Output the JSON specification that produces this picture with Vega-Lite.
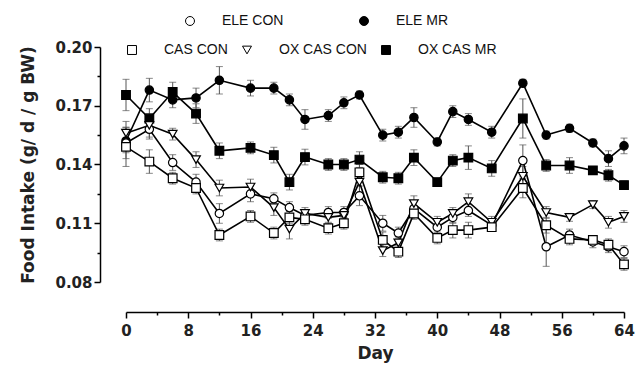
{
  "$schema": "https://vega.github.io/schema/vega-lite/v6.json",
  "width": 498,
  "height": 235,
  "autosize": "none",
  "padding": {"left": 126, "top": 47, "right": 11, "bottom": 91},
  "background": "white",
  "config": {
    "view": {"stroke": null},
    "font": "Liberation Sans",
    "legend": {"symbolStrokeColor": "black", "symbolStrokeWidth": 1}
  },
  "data": {
    "values": [
      {"day":0,"series":"ELE MR","value":0.152,"err":0.006},
      {"day":3,"series":"ELE MR","value":0.178,"err":0.006},
      {"day":6,"series":"ELE MR","value":0.173,"err":0.004},
      {"day":9,"series":"ELE MR","value":0.174,"err":0.005},
      {"day":12,"series":"ELE MR","value":0.183,"err":0.007},
      {"day":16,"series":"ELE MR","value":0.179,"err":0.004},
      {"day":19,"series":"ELE MR","value":0.179,"err":0.003},
      {"day":21,"series":"ELE MR","value":0.173,"err":0.003},
      {"day":23,"series":"ELE MR","value":0.163,"err":0.005},
      {"day":26,"series":"ELE MR","value":0.165,"err":0.003},
      {"day":28,"series":"ELE MR","value":0.1715,"err":0.003},
      {"day":30,"series":"ELE MR","value":0.1755,"err":0.002},
      {"day":33,"series":"ELE MR","value":0.155,"err":0.003},
      {"day":35,"series":"ELE MR","value":0.1565,"err":0.003},
      {"day":37,"series":"ELE MR","value":0.164,"err":0.005},
      {"day":40,"series":"ELE MR","value":0.1515,"err":0.002},
      {"day":42,"series":"ELE MR","value":0.167,"err":0.003},
      {"day":44,"series":"ELE MR","value":0.163,"err":0.003},
      {"day":47,"series":"ELE MR","value":0.1565,"err":0.003},
      {"day":51,"series":"ELE MR","value":0.1815,"err":0.002},
      {"day":54,"series":"ELE MR","value":0.155,"err":0.002},
      {"day":57,"series":"ELE MR","value":0.1585,"err":0.002},
      {"day":60,"series":"ELE MR","value":0.151,"err":0.002},
      {"day":62,"series":"ELE MR","value":0.143,"err":0.004},
      {"day":64,"series":"ELE MR","value":0.1495,"err":0.004},

      {"day":0,"series":"OX CAS MR","value":0.1755,"err":0.008},
      {"day":3,"series":"OX CAS MR","value":0.1635,"err":0.005},
      {"day":6,"series":"OX CAS MR","value":0.177,"err":0.005},
      {"day":9,"series":"OX CAS MR","value":0.166,"err":0.005},
      {"day":12,"series":"OX CAS MR","value":0.147,"err":0.004},
      {"day":16,"series":"OX CAS MR","value":0.1485,"err":0.003},
      {"day":19,"series":"OX CAS MR","value":0.1448,"err":0.004},
      {"day":21,"series":"OX CAS MR","value":0.131,"err":0.004},
      {"day":23,"series":"OX CAS MR","value":0.1438,"err":0.004},
      {"day":26,"series":"OX CAS MR","value":0.14,"err":0.003},
      {"day":28,"series":"OX CAS MR","value":0.14,"err":0.003},
      {"day":30,"series":"OX CAS MR","value":0.1425,"err":0.004},
      {"day":33,"series":"OX CAS MR","value":0.1335,"err":0.003},
      {"day":35,"series":"OX CAS MR","value":0.133,"err":0.003},
      {"day":37,"series":"OX CAS MR","value":0.1435,"err":0.004},
      {"day":40,"series":"OX CAS MR","value":0.131,"err":0.002},
      {"day":42,"series":"OX CAS MR","value":0.142,"err":0.003},
      {"day":44,"series":"OX CAS MR","value":0.1435,"err":0.006},
      {"day":47,"series":"OX CAS MR","value":0.138,"err":0.004},
      {"day":51,"series":"OX CAS MR","value":0.1635,"err":0.01},
      {"day":54,"series":"OX CAS MR","value":0.1395,"err":0.003},
      {"day":57,"series":"OX CAS MR","value":0.1395,"err":0.004},
      {"day":60,"series":"OX CAS MR","value":0.137,"err":0.002},
      {"day":62,"series":"OX CAS MR","value":0.1345,"err":0.003},
      {"day":64,"series":"OX CAS MR","value":0.1295,"err":0.002},

      {"day":0,"series":"OX CAS CON","value":0.156,"err":0.006},
      {"day":3,"series":"OX CAS CON","value":0.16,"err":0.006},
      {"day":6,"series":"OX CAS CON","value":0.1555,"err":0.003},
      {"day":9,"series":"OX CAS CON","value":0.1425,"err":0.004},
      {"day":12,"series":"OX CAS CON","value":0.128,"err":0.004},
      {"day":16,"series":"OX CAS CON","value":0.1285,"err":0.004},
      {"day":19,"series":"OX CAS CON","value":0.118,"err":0.004},
      {"day":21,"series":"OX CAS CON","value":0.107,"err":0.005},
      {"day":23,"series":"OX CAS CON","value":0.115,"err":0.003},
      {"day":26,"series":"OX CAS CON","value":0.113,"err":0.003},
      {"day":28,"series":"OX CAS CON","value":0.114,"err":0.003},
      {"day":30,"series":"OX CAS CON","value":0.131,"err":0.006},
      {"day":33,"series":"OX CAS CON","value":0.096,"err":0.003},
      {"day":35,"series":"OX CAS CON","value":0.1,"err":0.003},
      {"day":37,"series":"OX CAS CON","value":0.12,"err":0.004},
      {"day":40,"series":"OX CAS CON","value":0.1105,"err":0.003},
      {"day":42,"series":"OX CAS CON","value":0.115,"err":0.003},
      {"day":44,"series":"OX CAS CON","value":0.121,"err":0.004},
      {"day":47,"series":"OX CAS CON","value":0.1105,"err":0.003},
      {"day":51,"series":"OX CAS CON","value":0.134,"err":0.005},
      {"day":54,"series":"OX CAS CON","value":0.1155,"err":0.003},
      {"day":57,"series":"OX CAS CON","value":0.113,"err":0.002},
      {"day":60,"series":"OX CAS CON","value":0.1195,"err":0.002},
      {"day":62,"series":"OX CAS CON","value":0.1105,"err":0.003},
      {"day":64,"series":"OX CAS CON","value":0.1135,"err":0.003},

      {"day":0,"series":"ELE CON","value":0.151,"err":0.008},
      {"day":3,"series":"ELE CON","value":0.158,"err":0.005},
      {"day":6,"series":"ELE CON","value":0.141,"err":0.004},
      {"day":9,"series":"ELE CON","value":0.131,"err":0.004},
      {"day":12,"series":"ELE CON","value":0.115,"err":0.005},
      {"day":16,"series":"ELE CON","value":0.125,"err":0.004},
      {"day":19,"series":"ELE CON","value":0.1225,"err":0.003},
      {"day":21,"series":"ELE CON","value":0.118,"err":0.003},
      {"day":23,"series":"ELE CON","value":0.114,"err":0.003},
      {"day":26,"series":"ELE CON","value":0.1155,"err":0.003},
      {"day":28,"series":"ELE CON","value":0.1155,"err":0.003},
      {"day":30,"series":"ELE CON","value":0.124,"err":0.005},
      {"day":33,"series":"ELE CON","value":0.11,"err":0.004},
      {"day":35,"series":"ELE CON","value":0.105,"err":0.003},
      {"day":37,"series":"ELE CON","value":0.1175,"err":0.004},
      {"day":40,"series":"ELE CON","value":0.108,"err":0.003},
      {"day":42,"series":"ELE CON","value":0.113,"err":0.003},
      {"day":44,"series":"ELE CON","value":0.1165,"err":0.003},
      {"day":47,"series":"ELE CON","value":0.109,"err":0.003},
      {"day":51,"series":"ELE CON","value":0.142,"err":0.008},
      {"day":54,"series":"ELE CON","value":0.098,"err":0.01},
      {"day":57,"series":"ELE CON","value":0.104,"err":0.003},
      {"day":60,"series":"ELE CON","value":0.1005,"err":0.003},
      {"day":62,"series":"ELE CON","value":0.098,"err":0.003},
      {"day":64,"series":"ELE CON","value":0.0955,"err":0.003},

      {"day":0,"series":"CAS CON","value":0.149,"err":0.01},
      {"day":3,"series":"CAS CON","value":0.1415,"err":0.006},
      {"day":6,"series":"CAS CON","value":0.133,"err":0.003},
      {"day":9,"series":"CAS CON","value":0.128,"err":0.003},
      {"day":12,"series":"CAS CON","value":0.104,"err":0.003},
      {"day":16,"series":"CAS CON","value":0.1135,"err":0.003},
      {"day":19,"series":"CAS CON","value":0.105,"err":0.003},
      {"day":21,"series":"CAS CON","value":0.113,"err":0.003},
      {"day":23,"series":"CAS CON","value":0.112,"err":0.003},
      {"day":26,"series":"CAS CON","value":0.1075,"err":0.003},
      {"day":28,"series":"CAS CON","value":0.11,"err":0.003},
      {"day":30,"series":"CAS CON","value":0.136,"err":0.004},
      {"day":33,"series":"CAS CON","value":0.1015,"err":0.004},
      {"day":35,"series":"CAS CON","value":0.0955,"err":0.003},
      {"day":37,"series":"CAS CON","value":0.115,"err":0.003},
      {"day":40,"series":"CAS CON","value":0.1025,"err":0.003},
      {"day":42,"series":"CAS CON","value":0.1065,"err":0.004},
      {"day":44,"series":"CAS CON","value":0.1065,"err":0.004},
      {"day":47,"series":"CAS CON","value":0.108,"err":0.002},
      {"day":51,"series":"CAS CON","value":0.128,"err":0.005},
      {"day":54,"series":"CAS CON","value":0.109,"err":0.004},
      {"day":57,"series":"CAS CON","value":0.102,"err":0.003},
      {"day":60,"series":"CAS CON","value":0.1015,"err":0.002},
      {"day":62,"series":"CAS CON","value":0.099,"err":0.003},
      {"day":64,"series":"CAS CON","value":0.089,"err":0.003}
    ]
  },
  "encoding": {
    "x": {
      "field": "day", "type": "quantitative",
      "scale": {"domain": [0, 64], "nice": false, "zero": false},
      "axis": {
        "title": "Day",
        "offset": 30,
        "values": [0,4,8,12,16,20,24,28,32,36,40,44,48,52,56,60,64],
        "labelExpr": "datum.value % 8 == 0 ? datum.label : ''",
        "grid": false,
        "domainColor": "black", "domainWidth": 1.5,
        "tickColor": "black", "tickWidth": 1.5,
        "tickSize": {"condition": {"test": "datum.value % 8 != 0", "value": 3}, "value": 6},
        "labelFont": "DejaVu Sans", "labelFontWeight": "bold",
        "labelFontSize": 15, "labelColor": "#222", "labelPadding": 5,
        "labelFlush": false,
        "titleFont": "DejaVu Sans", "titleFontSize": 17, "titleFontWeight": "bold", "titleColor": "#222", "titlePadding": 7
      }
    },
    "y": {
      "field": "value", "type": "quantitative",
      "scale": {"domain": [0.08, 0.2], "nice": false, "zero": false},
      "axis": {
        "title": "Food Intake (g/ d / g BW)",
        "offset": 26,
        "values": [0.08,0.095,0.11,0.125,0.14,0.155,0.17,0.185,0.2],
        "labelExpr": "round(datum.value*1000) % 30 == 20 ? format(datum.value, '.2f') : ''",
        "grid": false,
        "domainColor": "black", "domainWidth": 1.5,
        "tickColor": "black", "tickWidth": 1.5,
        "tickSize": {"condition": {"test": "round(datum.value*1000) % 30 != 20", "value": 3}, "value": 6},
        "labelFont": "DejaVu Sans", "labelFontWeight": "bold",
        "labelFontSize": 15, "labelColor": "#222", "labelPadding": 2,
        "labelFlush": false,
        "titleFont": "DejaVu Sans", "titleFontSize": 17, "titleFontWeight": "bold", "titleColor": "#222", "titlePadding": 17
      }
    }
  },
  "layer": [
    {
      "mark": {"type": "errorbar", "ticks": {"size": 7}, "color": "#555", "thickness": 1},
      "encoding": {
        "y": {"field": "value", "type": "quantitative"},
        "yError": {"field": "err"},
        "detail": {"field": "series"}
      }
    },
    {
      "mark": {"type": "line", "color": "black", "strokeWidth": 1.6},
      "encoding": {"detail": {"field": "series"}}
    },
    {
      "transform": [{"filter": "indexof(['ELE CON','ELE MR'], datum.series) >= 0"}],
      "mark": {"type": "point", "filled": true, "strokeWidth": 1.2, "size": 70, "opacity": 1},
      "encoding": {
        "shape": {
          "field": "series", "type": "nominal",
          "scale": {"domain": ["ELE CON", "ELE MR"], "range": ["circle", "circle"]},
          "legend": {
            "title": null, "orient": "none", "legendX": 57, "legendY": -33,
            "direction": "horizontal", "columns": 2, "columnPadding": 73,
            "labelFontSize": 14, "labelColor": "#111", "labelOffset": 25,
            "symbolSize": 80, "symbolStrokeWidth": 1
          }
        },
        "fill": {
          "field": "series", "type": "nominal",
          "scale": {"domain": ["ELE CON", "ELE MR"], "range": ["white", "black"]},
          "legend": {
            "title": null, "orient": "none", "legendX": 57, "legendY": -33,
            "direction": "horizontal", "columns": 2, "columnPadding": 73,
            "labelFontSize": 14, "labelColor": "#111", "labelOffset": 25,
            "symbolSize": 80, "symbolStrokeWidth": 1
          }
        },
        "stroke": {
          "field": "series", "type": "nominal",
          "scale": {"domain": ["ELE CON", "ELE MR"], "range": ["black", "black"]},
          "legend": {
            "title": null, "orient": "none", "legendX": 57, "legendY": -33,
            "direction": "horizontal", "columns": 2, "columnPadding": 73,
            "labelFontSize": 14, "labelColor": "#111", "labelOffset": 25,
            "symbolSize": 80, "symbolStrokeWidth": 1
          }
        }
      }
    },
    {
      "transform": [{"filter": "indexof(['CAS CON','OX CAS CON','OX CAS MR'], datum.series) >= 0"}],
      "mark": {"type": "point", "filled": true, "strokeWidth": 1.2, "size": 75, "opacity": 1},
      "encoding": {
        "shape": {
          "field": "series", "type": "nominal",
          "scale": {"domain": ["CAS CON", "OX CAS CON", "OX CAS MR"], "range": ["square", "triangle-down", "square"]},
          "legend": {
            "title": null, "orient": "none", "legendX": -1, "legendY": -4,
            "direction": "horizontal", "columns": 3, "columnPadding": 12,
            "labelFontSize": 14, "labelColor": "#111", "labelOffset": 25,
            "symbolSize": 80, "symbolStrokeWidth": 1
          }
        },
        "fill": {
          "field": "series", "type": "nominal",
          "scale": {"domain": ["CAS CON", "OX CAS CON", "OX CAS MR"], "range": ["white", "white", "black"]},
          "legend": {
            "title": null, "orient": "none", "legendX": -1, "legendY": -4,
            "direction": "horizontal", "columns": 3, "columnPadding": 12,
            "labelFontSize": 14, "labelColor": "#111", "labelOffset": 25,
            "symbolSize": 80, "symbolStrokeWidth": 1
          }
        },
        "stroke": {
          "field": "series", "type": "nominal",
          "scale": {"domain": ["CAS CON", "OX CAS CON", "OX CAS MR"], "range": ["black", "black", "black"]},
          "legend": {
            "title": null, "orient": "none", "legendX": -1, "legendY": -4,
            "direction": "horizontal", "columns": 3, "columnPadding": 12,
            "labelFontSize": 14, "labelColor": "#111", "labelOffset": 25,
            "symbolSize": 80, "symbolStrokeWidth": 1
          }
        }
      }
    }
  ],
  "resolve": {"scale": {"shape": "independent", "fill": "independent", "stroke": "independent"}}
}
